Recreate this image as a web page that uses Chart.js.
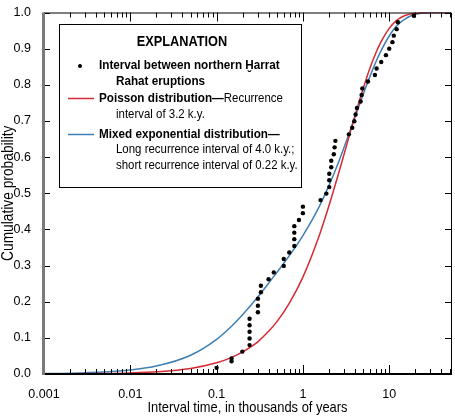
<!DOCTYPE html>
<html>
<head>
<meta charset="utf-8">
<script src="https://cdn.jsdelivr.net/npm/chart.js@4.4.0/dist/chart.umd.min.js"></script>
<style>
html, body { margin: 0; padding: 0; background: #fff; }
canvas { display: block; }
</style>
</head>
<body>
<canvas id="cdf" width="455" height="418"></canvas>
<script>
// Intervalos entre erupções (k.y.) e probabilidade acumulada
const eruptionIntervals = [0.10, 0.149, 0.149, 0.199, 0.241, 0.241, 0.241, 0.241, 0.241,
    0.301, 0.301, 0.301, 0.326, 0.326, 0.40, 0.46, 0.60, 0.60, 0.695,
    0.795, 0.795, 0.795, 0.795, 0.90, 1.0, 1.0, 1.60, 1.87, 2.02, 2.02, 2.02,
    2.13, 2.13, 2.28, 2.33, 2.38, 3.41, 3.73, 3.94, 4.08, 4.23, 4.66, 4.79, 4.88,
    5.67, 6.83, 7.14, 8.09, 9.16, 10.0, 10.9, 11.3, 12.2, 12.6, 19.3];
const eruptionProb = [0.017, 0.035, 0.043, 0.062, 0.080, 0.098, 0.117, 0.135, 0.153,
    0.171, 0.189, 0.208, 0.226, 0.244, 0.262, 0.281, 0.299, 0.318, 0.336,
    0.354, 0.373, 0.391, 0.409, 0.426, 0.445, 0.463, 0.481, 0.499, 0.517, 0.536, 0.554,
    0.572, 0.590, 0.608, 0.627, 0.645, 0.663, 0.681, 0.699, 0.718, 0.736, 0.754, 0.772, 0.790,
    0.809, 0.827, 0.845, 0.863, 0.882, 0.900, 0.918, 0.936, 0.954, 0.973, 0.991];

// Curvas
const curveTimes = [0.001, 0.002, 0.005, 0.01, 0.02, 0.05, 0.1, 0.15, 0.2, 0.3, 0.4, 0.5, 0.7,
    1, 1.5, 2, 2.5, 3, 4, 5, 6, 7, 8, 10, 12, 15, 20, 30, 52];
const poissonProb = [0.0003, 0.0006, 0.0016, 0.0031, 0.0062, 0.0155, 0.031, 0.046, 0.061, 0.089, 0.118, 0.145, 0.197,
    0.268, 0.374, 0.465, 0.542, 0.608, 0.714, 0.790, 0.847, 0.888, 0.918, 0.956, 0.977, 0.991, 0.998, 1.0, 1.0];
const mixedProb = [0.0012, 0.0023, 0.0057, 0.0113, 0.022, 0.052, 0.096, 0.133, 0.164, 0.213, 0.251, 0.281, 0.328,
    0.383, 0.457, 0.521, 0.577, 0.627, 0.709, 0.774, 0.824, 0.863, 0.893, 0.935, 0.961, 0.981, 0.995, 0.9996, 1.0];

// Eixos
const xMajorTicks = [0.001, 0.01, 0.1, 1, 10];
const xTickLabels = ['0.001', '0.01', '0.1', '1', '10'];
const yTicks = [0, 0.1, 0.2, 0.3, 0.4, 0.5, 0.6, 0.7, 0.8, 0.9, 1.0];
const yTickLabels = ['0.0', '0.1', '0.2', '0.3', '0.4', '0.5', '0.6', '0.7', '0.8', '0.9', '1.0'];

const RED = '#d62a33';
const BLUE = '#3f7fb4';
const FONT = '"Liberation Sans", Arial, sans-serif';

function toPoints(xs, ys) {
    return xs.map((x, i) => ({ x: x, y: ys[i] }));
}

// texto estreito (a fonte original é condensada)
function narrowText(ctx, text, x, y, sx) {
    ctx.save();
    ctx.translate(x, y);
    ctx.scale(sx, 1);
    ctx.fillText(text, 0, 0);
    ctx.restore();
    return ctx.measureText(text).width * sx;
}

// Eixos, marcas e legenda desenhados à mão
const frame = {
    id: 'frame',
    afterDraw(chart) {
        const ctx = chart.ctx;
        const a = chart.chartArea;
        const xs = chart.scales.x;
        const ys = chart.scales.y;
        ctx.save();

        // marcas menores do eixo log
        const minor = [];
        for (let d = 0.001; d < 100; d *= 10) {
            for (let m = 2; m <= 9; m++) {
                const v = +(m * d).toPrecision(3);
                if (v < xs.max) minor.push(v);
            }
        }
        ctx.strokeStyle = '#000';
        ctx.lineWidth = 1;
        ctx.beginPath();
        minor.forEach(v => {
            const px = Math.round(xs.getPixelForValue(v)) + 0.5;
            ctx.moveTo(px, a.bottom); ctx.lineTo(px, a.bottom - 5);
            ctx.moveTo(px, a.top); ctx.lineTo(px, a.top + 5);
        });
        xMajorTicks.forEach(v => {
            const px = Math.round(xs.getPixelForValue(v)) + 0.5;
            ctx.moveTo(px, a.bottom); ctx.lineTo(px, a.bottom - 9);
            ctx.moveTo(px, a.top); ctx.lineTo(px, a.top + 9);
        });
        yTicks.forEach(v => {
            const py = Math.round(ys.getPixelForValue(v)) + 0.5;
            ctx.moveTo(a.left, py); ctx.lineTo(a.left + 6, py);
            ctx.moveTo(a.right - 6, py); ctx.lineTo(a.right, py);
        });
        ctx.stroke();

        // moldura
        ctx.beginPath();
        ctx.moveTo(a.left, a.top + 0.5); ctx.lineTo(a.right + 0.5, a.top + 0.5);
        ctx.lineTo(a.right + 0.5, a.bottom);
        ctx.stroke();
        ctx.lineWidth = 2;
        ctx.beginPath();
        ctx.moveTo(a.left, a.bottom); ctx.lineTo(a.right + 1, a.bottom);
        ctx.stroke();
        ctx.strokeStyle = '#7a7a7a';
        ctx.lineWidth = 3;
        ctx.beginPath();
        ctx.moveTo(a.left - 0.5, a.top); ctx.lineTo(a.left - 0.5, a.bottom + 1);
        ctx.stroke();

        // títulos dos eixos
        ctx.fillStyle = '#000';
        ctx.font = '15px ' + FONT;
        ctx.textAlign = 'center';
        ctx.textBaseline = 'middle';
        narrowText(ctx, 'Interval time, in thousands of years', (a.left + a.right) / 2, 408, 0.86);
        ctx.save();
        ctx.translate(9, (a.top + a.bottom) / 2);
        ctx.rotate(-Math.PI / 2);
        ctx.font = '16px ' + FONT;
        narrowText(ctx, 'Cumulative probability', 0, 0, 0.86);
        ctx.restore();

        // legenda
        ctx.fillStyle = '#fff';
        ctx.fillRect(59, 24, 242, 163);
        ctx.strokeStyle = '#000';
        ctx.lineWidth = 1;
        ctx.strokeRect(59.5, 24.5, 242, 163);

        ctx.fillStyle = '#000';
        ctx.font = 'bold 14px ' + FONT;
        narrowText(ctx, 'EXPLANATION', 182, 42, 0.91);

        ctx.textAlign = 'left';
        ctx.beginPath();
        ctx.arc(80, 66, 2, 0, Math.PI * 2);
        ctx.fill();

        const bold = 'bold 13px ' + FONT;
        const reg = '13px ' + FONT;
        ctx.font = bold;
        narrowText(ctx, 'Interval between northern \u1E2Aarrat', 99, 65, 0.9);
        narrowText(ctx, 'Rahat eruptions', 116, 81, 0.9);

        ctx.strokeStyle = RED;
        ctx.lineWidth = 1.5;
        ctx.beginPath(); ctx.moveTo(68, 98.5); ctx.lineTo(94, 98.5); ctx.stroke();
        ctx.font = bold;
        const w = narrowText(ctx, 'Poisson distribution\u2014', 99, 98, 0.9);
        ctx.font = reg;
        narrowText(ctx, 'Recurrence', 99 + w, 98, 0.88);
        narrowText(ctx, 'interval of 3.2 k.y.', 116, 114, 0.88);

        ctx.strokeStyle = BLUE;
        ctx.beginPath(); ctx.moveTo(68, 134.5); ctx.lineTo(94, 134.5); ctx.stroke();
        ctx.font = bold;
        narrowText(ctx, 'Mixed exponential distribution\u2014', 99, 134, 0.9);
        ctx.font = reg;
        narrowText(ctx, 'Long recurrence interval of 4.0 k.y.;', 116, 149, 0.88);
        narrowText(ctx, 'short recurrence interval of 0.22 k.y.', 116, 165, 0.88);

        ctx.restore();
    }
};

new Chart(document.getElementById('cdf'), {
    type: 'scatter',
    data: {
        datasets: [
            {
                label: 'Poisson',
                data: toPoints(curveTimes, poissonProb),
                showLine: true,
                borderColor: RED,
                borderWidth: 1.5,
                pointRadius: 0,
                cubicInterpolationMode: 'monotone',
                order: 2
            },
            {
                label: 'Mixed exponential',
                data: toPoints(curveTimes, mixedProb),
                showLine: true,
                borderColor: BLUE,
                borderWidth: 1.5,
                pointRadius: 0,
                cubicInterpolationMode: 'monotone',
                order: 3
            },
            {
                label: 'Eruptions',
                data: toPoints(eruptionIntervals, eruptionProb),
                backgroundColor: '#000',
                borderWidth: 0,
                pointRadius: 2.2,
                order: 1
            }
        ]
    },
    options: {
        responsive: false,
        animation: false,
        devicePixelRatio: 1,
        layout: { padding: { top: 8, right: 4, left: 0, bottom: 0 } },
        plugins: { legend: { display: false }, tooltip: { enabled: false } },
        scales: {
            x: {
                type: 'logarithmic',
                min: 0.001,
                max: 52,
                grid: { display: false },
                border: { display: false },
                afterBuildTicks: (scale) => {
                    scale.ticks = xMajorTicks.map(v => ({ value: v }));
                },
                afterFit: (scale) => { scale.height = 44; },
                ticks: {
                    padding: 5,
                    maxRotation: 0,
                    autoSkip: false,
                    color: '#000',
                    font: { family: FONT, size: 12.5 },
                    callback: (value) => xTickLabels[xMajorTicks.indexOf(value)]
                }
            },
            y: {
                min: 0,
                max: 1,
                grid: { display: false },
                border: { display: false },
                afterBuildTicks: (scale) => {
                    scale.ticks = yTicks.map(v => ({ value: v }));
                },
                afterFit: (scale) => { scale.width = 44; },
                ticks: {
                    padding: 5,
                    autoSkip: false,
                    color: '#000',
                    font: { family: FONT, size: 12.5 },
                    callback: (value) => yTickLabels[yTicks.indexOf(value)]
                }
            }
        }
    },
    plugins: [frame]
});
</script>
</body>
</html>
